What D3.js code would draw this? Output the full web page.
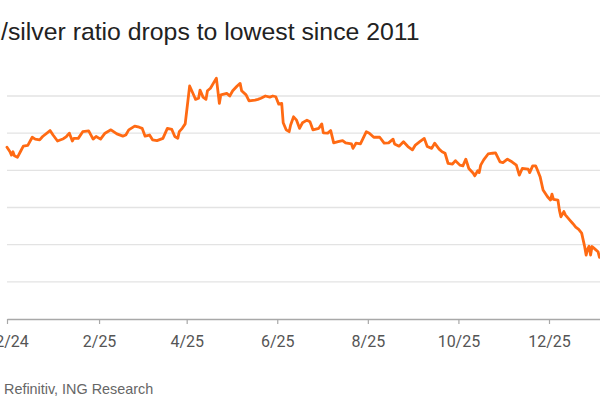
<!DOCTYPE html>
<html>
<head>
<meta charset="utf-8">
<script src="https://cdn.jsdelivr.net/npm/d3@7"></script>
<style>
  html, body { margin: 0; padding: 0; background: #fff; overflow: hidden; }
  svg { display: block; }
</style>
</head>
<body>
<svg id="chart" width="600" height="413"></svg>
<script>
// ---- data ----
const dates = [
"2024-12-01","2024-12-03","2024-12-04","2024-12-05","2024-12-06","2024-12-08","2024-12-10","2024-12-12","2024-12-15","2024-12-18",
"2024-12-20","2024-12-23","2024-12-25","2024-12-30","2025-01-01","2025-01-04","2025-01-08","2025-01-10","2025-01-12","2025-01-14",
"2025-01-15","2025-01-18","2025-01-21","2025-01-25","2025-01-28","2025-01-30","2025-02-02","2025-02-05","2025-02-09","2025-02-13",
"2025-02-17","2025-02-19","2025-02-21","2025-02-25","2025-02-28","2025-03-02","2025-03-04","2025-03-07","2025-03-09","2025-03-12",
"2025-03-16","2025-03-19","2025-03-22","2025-03-24","2025-03-26","2025-03-27","2025-03-29","2025-03-31","2025-04-03","2025-04-06",
"2025-04-07","2025-04-09","2025-04-10","2025-04-12","2025-04-14","2025-04-15","2025-04-17","2025-04-21","2025-04-23","2025-04-24",
"2025-04-28","2025-04-30","2025-05-02","2025-05-05","2025-05-07","2025-05-08","2025-05-11","2025-05-13","2025-05-17","2025-05-19",
"2025-05-21","2025-05-24","2025-05-27","2025-05-29","2025-05-31","2025-06-02","2025-06-04","2025-06-05","2025-06-07","2025-06-09",
"2025-06-10","2025-06-12","2025-06-14","2025-06-16","2025-06-18","2025-06-21","2025-06-23","2025-06-25","2025-06-29","2025-07-01",
"2025-07-02","2025-07-05","2025-07-07","2025-07-09","2025-07-12","2025-07-15","2025-07-17","2025-07-21","2025-07-22","2025-07-24",
"2025-07-27","2025-07-31","2025-08-02","2025-08-05","2025-08-09","2025-08-12","2025-08-15","2025-08-18","2025-08-19","2025-08-22",
"2025-08-25","2025-08-28","2025-08-31","2025-09-02","2025-09-05","2025-09-08","2025-09-10","2025-09-13","2025-09-15","2025-09-18",
"2025-09-20","2025-09-22","2025-09-24","2025-09-27","2025-09-29","2025-10-02","2025-10-04","2025-10-06","2025-10-08","2025-10-11",
"2025-10-12","2025-10-14","2025-10-15","2025-10-16","2025-10-18","2025-10-21","2025-10-24","2025-10-26","2025-10-29","2025-10-31",
"2025-11-03","2025-11-06","2025-11-09","2025-11-11","2025-11-13","2025-11-17","2025-11-18","2025-11-20","2025-11-22","2025-11-23",
"2025-11-25","2025-11-27","2025-11-30","2025-12-02","2025-12-03","2025-12-04","2025-12-07","2025-12-08","2025-12-09","2025-12-11",
"2025-12-12","2025-12-15","2025-12-17","2025-12-19","2025-12-21","2025-12-23","2025-12-24","2025-12-25","2025-12-26","2025-12-27",
"2025-12-28","2025-12-29","2025-12-30","2026-01-01","2026-01-03","2026-01-04"
];
const ratio = [
86.2,85.0,84.1,85.0,83.9,83.5,85.0,86.5,86.7,88.9,
88.4,88.2,89.1,90.7,89.5,87.9,88.5,89.1,90.0,87.9,
88.6,88.6,90.4,90.6,88.4,89.1,88.4,90.0,90.9,89.8,
89.2,89.5,90.9,91.9,91.6,91.3,89.2,89.5,88.2,88.0,
88.6,91.3,91.0,89.1,88.6,90.4,91.3,92.5,102.7,100.0,
99.1,99.4,101.6,99.7,99.1,101.4,102.1,104.8,98.0,100.3,
100.7,100.0,101.4,102.7,103.4,101.4,100.3,98.7,98.9,99.1,
99.4,100.0,99.7,100.0,99.8,97.8,98.0,92.8,90.9,90.4,
92.2,94.4,93.5,91.3,92.8,93.5,93.1,90.9,91.3,92.5,
90.1,90.0,90.7,87.4,87.7,88.0,87.4,87.1,85.9,87.3,
87.1,90.4,90.0,88.9,88.9,87.3,87.4,88.4,87.1,86.5,
87.7,86.4,85.5,86.8,87.7,88.6,86.4,85.9,87.3,85.7,
85.0,84.6,81.9,81.7,82.6,81.4,81.2,83.0,80.5,79.2,
78.5,79.9,79.4,81.4,82.8,84.4,84.6,84.7,82.3,82.1,
83.0,82.3,81.4,78.7,80.5,80.3,79.4,81.2,81.2,80.3,
78.3,74.7,72.9,72.0,73.6,72.2,72.0,69.3,67.5,68.9,
68.0,66.6,65.7,64.7,64.1,63.1,61.3,59.5,57.2,58.8,
59.6,57.2,59.5,58.8,58.1,56.6
];
const tickDates  = ["2024-12-01","2025-02-01","2025-04-01","2025-06-01","2025-08-01","2025-10-01","2025-12-01"];
const tickLabels = ["12/24","2/25","4/25","6/25","8/25","10/25","12/25"];
const gridValues = [50, 60, 70, 80, 90, 100];
const titleLead = "Gold";
const titleRest = "/silver ratio drops to lowest since 2011";
const sourceLead = "Source:";
const sourceRest = "Refinitiv, ING Research";

// ---- drawing ----
const parse = d3.utcParse("%Y-%m-%d");
const data = dates.map((d, i) => ({ date: parse(d), v: ratio[i] }));

const svg = d3.select("#chart");

const x = d3.scaleUtc()
  .domain([parse("2024-12-01"), parse("2026-01-10")])
  .range([7, 7 + 405 * (542 / 365)]);
const y = d3.scaleLinear().domain([40, 100]).range([319, 96]);

// gridlines
svg.append("g")
  .selectAll("line")
  .data(gridValues)
  .join("line")
  .attr("x1", x.range()[0]).attr("x2", x.range()[1])
  .attr("y1", d => y(d)).attr("y2", d => y(d))
  .attr("stroke", "#e3e3e3")
  .attr("stroke-width", 1.3);

// x axis
const xAxis = d3.axisBottom(x)
  .tickValues(tickDates.map(parse))
  .tickFormat((d, i) => tickLabels[i])
  .tickSize(5)
  .tickPadding(12)
  .tickSizeOuter(0);

const gx = svg.append("g")
  .attr("transform", `translate(0,${y(40)})`)
  .call(xAxis);
gx.select(".domain").attr("stroke", "#a8a8a8").attr("stroke-width", 1.5);
gx.selectAll(".tick line").attr("stroke", "#a8a8a8").attr("stroke-width", 1.2);
gx.selectAll(".tick text")
  .attr("fill", "#555")
  .style("font-family", "Roboto, 'DejaVu Sans', sans-serif")
  .style("font-size", "16px");

// line
const line = d3.line()
  .x(d => x(d.date))
  .y(d => y(d.v));

svg.append("path")
  .datum(data)
  .attr("fill", "none")
  .attr("stroke", "#ff6a13")
  .attr("stroke-width", 2.8)
  .attr("stroke-linejoin", "round")
  .attr("stroke-linecap", "round")
  .attr("d", line);

// title
const titleFont = "'Liberation Sans', Arial, sans-serif";
svg.append("text")
  .attr("x", 1).attr("y", 40)
  .attr("text-anchor", "end")
  .attr("fill", "#222")
  .style("font-family", titleFont).style("font-size", "24.8px")
  .text(titleLead);
svg.append("text")
  .attr("x", 1).attr("y", 40)
  .attr("fill", "#222")
  .style("font-family", titleFont).style("font-size", "24.8px")
  .text(titleRest);

// source
svg.append("text")
  .attr("x", -1).attr("y", 394)
  .attr("text-anchor", "end")
  .attr("fill", "#666")
  .style("font-family", titleFont).style("font-size", "14.4px")
  .text(sourceLead);
svg.append("text")
  .attr("x", 4).attr("y", 394)
  .attr("fill", "#666")
  .style("font-family", titleFont).style("font-size", "14.4px")
  .text(sourceRest);
</script>
</body>
</html>
